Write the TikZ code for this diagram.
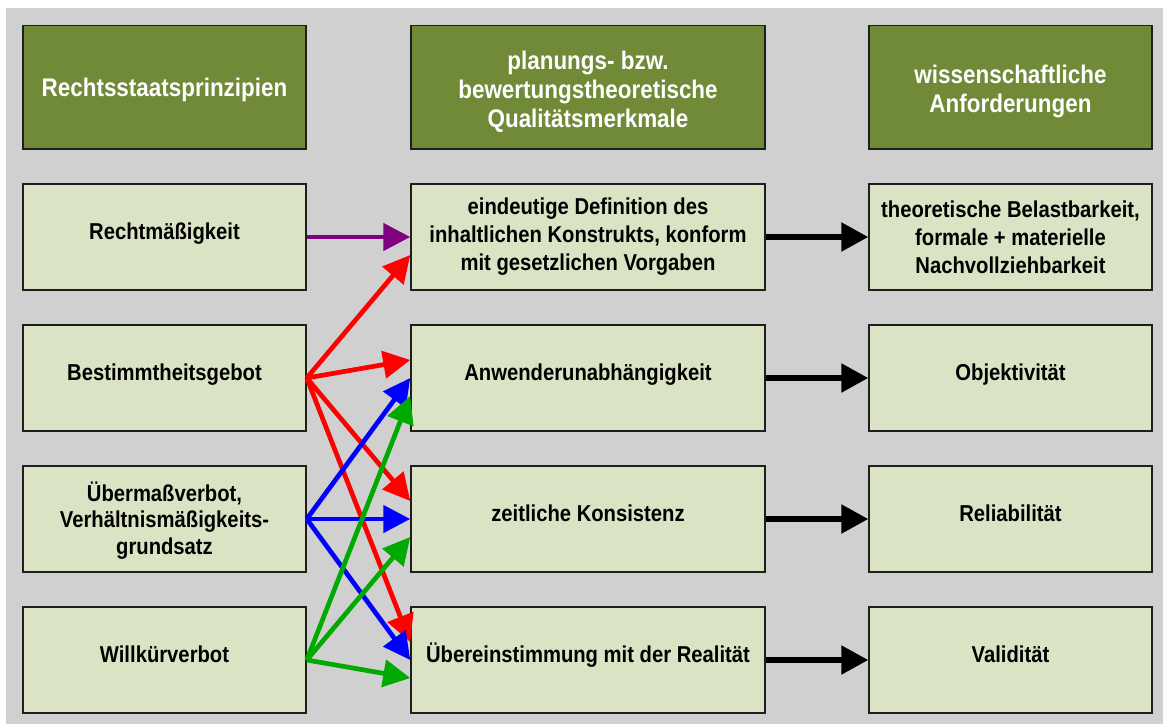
\documentclass[tikz,border=0pt]{standalone}
\usepackage{fontspec}
\setmainfont{Liberation Sans}[FakeStretch=0.88]
\usetikzlibrary{arrows.meta}
\definecolor{bggray}{RGB}{208,208,208}
\definecolor{headgreen}{RGB}{112,138,56}
\definecolor{lightgreen}{RGB}{218,228,196}
\definecolor{arrgreen}{RGB}{0,170,0}
\definecolor{arrpurple}{RGB}{128,0,128}
\definecolor{boxline}{RGB}{30,30,30}
\newcommand{\topstrut}{\rule{0pt}{27pt}}
\begin{document}
\begin{tikzpicture}[x=1pt,y=-1pt,
  box/.style={draw=boxline, line width=1.5pt, fill=lightgreen, inner sep=0pt, align=center,
    font=\bfseries\fontsize{23pt}{28pt}\selectfont},
  head/.style={box, fill=headgreen, text=white, minimum height=123.5pt,
    font=\bfseries\fontsize{25.5pt}{29pt}\selectfont},
  body/.style={box, minimum height=106pt},
  narrow/.style={minimum width=283pt},
  wide/.style={minimum width=354pt},
  one/.style={text height=17pt, text depth=12.4pt},
  onehead/.style={text height=18.3pt, text depth=0pt},
  conn/.style={line width=4.7pt, -{Triangle[length=27pt,width=27pt]}},
  blackconn/.style={line width=5.5pt, -{Triangle[length=27pt,width=28pt]}},
]
\useasboundingbox (0,0) rectangle (1163,724);
\fill[bggray] (6,8) rectangle (1163,724);

% headers
\node[head,narrow,onehead] (h1) at (164.5,87.4) {Rechtsstaatsprinzipien};
\node[head,wide] (h2) at (588,87.4) {\topstrut planungs- bzw.\\bewertungstheoretische\\Qualitätsmerkmale};
\node[head,narrow] (h3) at (1010.5,87.4) {\topstrut wissenschaftliche\\Anforderungen};

% left column
\node[body,narrow,one] (l1) at (164.5,237) {Rechtmäßigkeit};
\node[body,narrow,one] (l2) at (164.5,378) {Bestimmtheitsgebot};
\node[body,narrow] (l3) at (164.5,519) {\rule{0pt}{22pt}Übermaßverbot,\\[-1.5pt]Verhältnismäßigkeits-\\[-1.5pt]grundsatz};
\node[body,narrow,one] (l4) at (164.5,660) {Willkürverbot};

% middle column
\node[body,wide] (m1) at (588,237) {eindeutige Definition des\\inhaltlichen Konstrukts, konform\\mit gesetzlichen Vorgaben};
\node[body,wide,one] (m2) at (588,378) {Anwenderunabhängigkeit};
\node[body,wide,one] (m3) at (588,519) {zeitliche Konsistenz};
\node[body,wide,one] (m4) at (588,660) {Übereinstimmung mit der Realität};

% right column
\node[body,narrow] (r1) at (1010.5,237) {theoretische Belastbarkeit,\\formale + materielle\\Nachvollziehbarkeit};
\node[body,narrow,one] (r2) at (1010.5,378) {Objektivität};
\node[body,narrow,one] (r3) at (1010.5,519) {Reliabilität};
\node[body,narrow,one] (r4) at (1010.5,660) {Validität};

% connectors
\draw[conn,arrpurple] (l1.east) -- (m1.west);
\draw[conn,red] (l2.east) -- ([yshift=-18pt]m1.west);
\draw[conn,red] (l2.east) -- ([yshift=18pt]m2.west);
\draw[conn,red] (l2.east) -- ([yshift=18pt]m3.west);
\draw[conn,red] (l2.east) -- ([yshift=18pt]m4.west);
\draw[conn,blue] (l3.east) -- (m2.west);
\draw[conn,blue] (l3.east) -- (m3.west);
\draw[conn,blue] (l3.east) -- (m4.west);
\draw[conn,arrgreen] (l4.east) -- ([yshift=-18pt]m2.west);
\draw[conn,arrgreen] (l4.east) -- ([yshift=-18pt]m3.west);
\draw[conn,arrgreen] (l4.east) -- ([yshift=-18pt]m4.west);

\draw[blackconn] (m1.east) -- (r1.west);
\draw[blackconn] (m2.east) -- (r2.west);
\draw[blackconn] (m3.east) -- (r3.west);
\draw[blackconn] (m4.east) -- (r4.west);
\end{tikzpicture}
\end{document}
